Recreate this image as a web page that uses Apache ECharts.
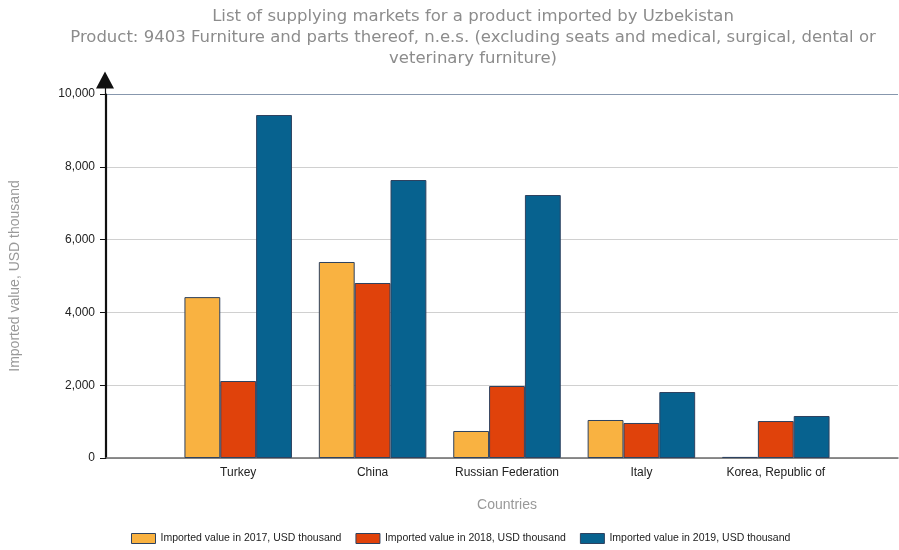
<!DOCTYPE html>
<html>
<head>
<meta charset="utf-8">
<script src="https://cdn.jsdelivr.net/npm/echarts@6/dist/echarts.min.js"></script>
<style>
  html, body { margin: 0; padding: 0; background: #fff; }
  #chart { width: 899px; height: 550px; }
</style>
</head>
<body>
<div id="chart"></div>
<script>
// data
var countries = ['Turkey', 'China', 'Russian Federation', 'Italy', 'Korea, Republic of'];
var value2017 = [4420, 5385, 742, 1044, 30];
var value2018 = [2115, 4808, 1978, 962, 1016];
var value2019 = [9423, 7637, 7225, 1813, 1154];
var seriesNames = [
  'Imported value in 2017, USD thousand',
  'Imported value in 2018, USD thousand',
  'Imported value in 2019, USD thousand'
];
var yTicks = [0, 2000, 4000, 6000, 8000, 10000];

var chart = echarts.init(document.getElementById('chart'));

var gridTop = 94, gridBottom = 92;
var barBorder = '#2e4260';

function barSeries(name, data, color) {
  return {
    name: name,
    type: 'bar',
    xAxisIndex: 1,
    yAxisIndex: 1,
    data: data,
    barGap: '0%',
    barCategoryGap: '20%',
    itemStyle: { color: color, borderColor: barBorder, borderWidth: 1 }
  };
}

var option = {
  animation: false,
  title: {
    text: 'List of supplying markets for a product imported by Uzbekistan\nProduct: 9403 Furniture and parts thereof, n.e.s. (excluding seats and medical, surgical, dental or\nveterinary furniture)',
    left: 468,
    top: 1,
    textAlign: 'center',
    textStyle: {
      fontFamily: 'DejaVu Sans',
      fontSize: 16.5,
      fontWeight: 'normal',
      color: '#8c8c8c',
      lineHeight: 21
    }
  },
  legend: {
    bottom: 1,
    left: 126,
    itemWidth: 24,
    itemHeight: 10,
    itemGap: 14,
    icon: 'rect',
    data: seriesNames,
    itemStyle: { borderColor: barBorder, borderWidth: 1 },
    textStyle: {
      fontFamily: 'Liberation Sans',
      fontSize: 10.5,
      color: '#222'
    }
  },
  grid: [
    { left: 105, right: 1, top: gridTop, bottom: gridBottom },
    { left: 171, right: 56, top: gridTop, bottom: gridBottom },
    { left: 105, width: 1, top: 80, bottom: gridBottom }
  ],
  xAxis: [
    {
      gridIndex: 0,
      type: 'category',
      data: countries,
      axisLine: { show: true, lineStyle: { color: '#6b6b6b', width: 1.5 } },
      axisTick: { show: false },
      axisLabel: { show: false }
    },
    {
      gridIndex: 1,
      type: 'category',
      data: countries,
      axisLine: { show: false },
      axisTick: { show: false },
      axisLabel: {
        interval: 0,
        fontFamily: 'Liberation Sans',
        fontSize: 12,
        color: '#222',
        margin: 9
      },
      name: 'Countries',
      nameLocation: 'middle',
      nameGap: 40,
      nameTextStyle: { fontFamily: 'Liberation Sans', fontSize: 14, color: '#999' }
    },
    {
      gridIndex: 2,
      type: 'category',
      show: false
    }
  ],
  yAxis: [
    {
      gridIndex: 0,
      type: 'value',
      min: 0,
      max: 10000,
      interval: 2000,
      axisLine: { show: true, lineStyle: { color: '#111', width: 1.2 } },
      axisTick: { show: true, length: 6, lineStyle: { color: '#111' } },
      axisLabel: {
        fontFamily: 'Liberation Sans',
        fontSize: 12,
        color: '#222',
        margin: 11,
        formatter: function (v) { return v.toLocaleString('en-US'); }
      },
      splitLine: {
        show: true,
        lineStyle: { color: ['#d0d0d0', '#d0d0d0', '#d0d0d0', '#d0d0d0', '#d0d0d0', '#8797ad'], width: 1 }
      },
      name: 'Imported value, USD thousand',
      nameLocation: 'middle',
      nameGap: 84,
      nameTextStyle: { fontFamily: 'Liberation Sans', fontSize: 14, color: '#999' }
    },
    {
      gridIndex: 1,
      type: 'value',
      min: 0,
      max: 10000,
      interval: 2000,
      show: false
    },
    {
      gridIndex: 2,
      type: 'value',
      min: 0,
      max: 1,
      axisLine: {
        show: true,
        symbol: ['none', 'triangle'],
        symbolSize: [18, 17],
        lineStyle: { color: '#111', width: 1.2 }
      },
      axisTick: { show: false },
      axisLabel: { show: false },
      splitLine: { show: false }
    }
  ],
  series: [
    barSeries(seriesNames[0], value2017, '#f9b241'),
    barSeries(seriesNames[1], value2018, '#e0420b'),
    barSeries(seriesNames[2], value2019, '#07628f')
  ]
};

chart.setOption(option);
</script>
</body>
</html>
